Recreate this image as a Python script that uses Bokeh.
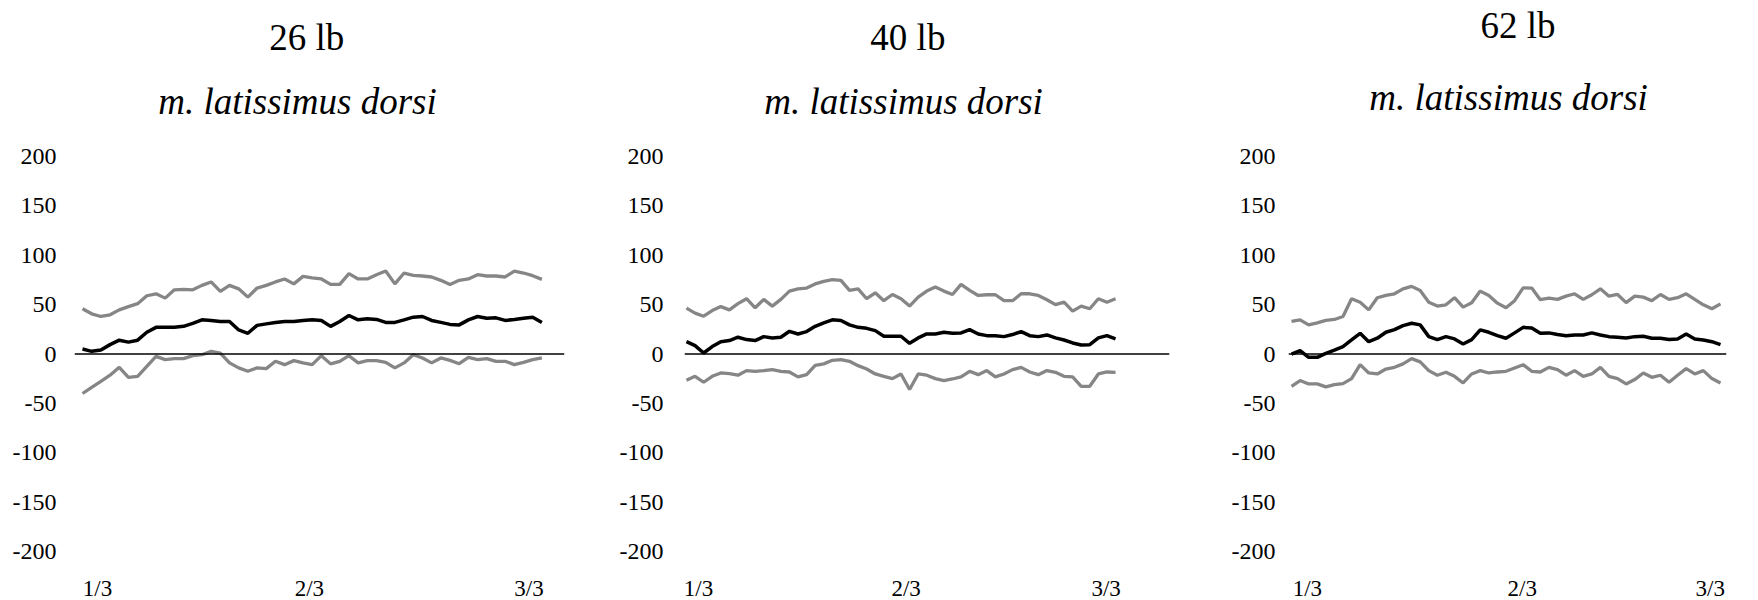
from bokeh.plotting import figure
from bokeh.layouts import row
from bokeh.models import Span, FixedTicker, Range1d, ColumnDataSource
from bokeh.core.properties import value
from bokeh.embed import file_html
from bokeh.resources import INLINE

# ---- data -------------------------------------------------------------
loads = ["26 lb", "40 lb", "62 lb"]
muscle = "m. latissimus dorsi"
phase_labels = ["1/3", "2/3", "3/3"]
y_ticks = [-200, -150, -100, -50, 0, 50, 100, 150, 200]

mean_26 = [5, 2.7, 4, 9.5, 14, 12, 14, 22, 27, 27, 27, 28, 31, 34.6, 34, 33, 33,
           24.4, 21, 29, 30.5, 32, 33, 33, 34, 34.6, 34, 28, 33, 39, 34.6, 35.6,
           35, 32, 32, 34.6, 37.3, 38, 34, 32, 30, 29.5, 34.6, 38, 36.3, 36.6,
           34, 35, 36.3, 37.3, 32]
upper_26 = [45.8, 40.7, 38, 39.7, 44.7, 48, 51, 59, 61, 56.6, 65, 65.4, 65, 69.5,
            73, 63.4, 69.5, 66, 57.6, 66.8, 69.5, 73, 76, 71, 78.6, 77, 76, 70.5,
            70.5, 81.4, 76, 76, 80.3, 84, 71, 82, 79.7, 79, 78, 74.6, 70.5, 74.6,
            76, 80.3, 79, 79, 78, 84, 82, 79.3, 75.6]
lower_26 = [-40, -33.7, -27.6, -21.5, -13.5, -23.6, -22.6, -12.5, -2.4, -5.7, -4.7,
            -4.7, -1.7, -0.7, 2.7, 1, -9, -14, -17.5, -14, -14.8, -7.4, -10.8, -6.7,
            -9, -10.8, -1.7, -10, -7.4, -1.7, -9, -6.7, -6.7, -8.4, -14, -9, -0.7,
            -4, -9, -4, -6.4, -9.8, -3.4, -5.7, -4.7, -7.4, -7.4, -10.8, -8.4, -5.7, -4]

mean_40 = [12.5, 8.5, 1, 7.5, 12.5, 13.6, 17, 14.6, 13.6, 17.6, 16.3, 17, 23, 20.3,
           22.7, 28, 31.5, 34.6, 34, 29.5, 27, 26, 23.7, 18, 18, 18, 10.8, 16.3,
           20.3, 20.3, 22, 21, 21.4, 24.7, 20.3, 18.6, 18.6, 17.6, 19.7, 22.7, 18.6,
           17.6, 19.3, 16.3, 14.2, 11.2, 9.2, 9.5, 16.3, 18.6, 15.3]
upper_40 = [46.4, 41.4, 38.3, 44, 48, 44.7, 51, 56, 46.8, 55.3, 48.5, 55.3, 63.7, 66,
            66.8, 71, 73.6, 75.3, 74.6, 64.4, 66, 56, 62, 54, 60.3, 56, 48.5, 57.6,
            63.7, 67.8, 63.7, 60.3, 70.5, 64.4, 59.3, 60, 60, 54, 54, 61, 61, 59.3,
            55, 50, 52.5, 43.4, 48.5, 45.8, 56, 52.5, 56]
lower_40 = [-26.6, -22.6, -28.6, -22.6, -19.2, -19.9, -21.5, -16.8, -17.5, -16.8,
            -15.8, -17.5, -18.2, -23.2, -20.9, -11.4, -10, -6.4, -5.7, -7.4, -11.8,
            -15.2, -20.2, -22.6, -24.9, -20.2, -36, -20.2, -21.5, -24.9, -26.9, -25.3,
            -23.2, -17.5, -20.9, -16.8, -23.2, -20.2, -15.8, -13.5, -18.2, -20.9,
            -16.8, -18.5, -22.6, -23.2, -32.7, -32.7, -20.2, -18.2, -18.5]

mean_62 = [0, 3.4, -3.4, -3.4, 0.7, 4, 7.5, 14.2, 21, 12.5, 16, 22, 24.7, 28.8, 31.2,
           29.5, 17.6, 14.6, 17.6, 15.3, 10.2, 14.6, 24.4, 22, 18.6, 16, 21.4, 27,
           26.4, 21, 21.4, 19.7, 18.6, 19.3, 19.3, 21.4, 19.3, 17.6, 17, 16.3, 17.6,
           18, 16, 16, 14.6, 15.3, 20.3, 15.3, 14.2, 12.5, 9.5]
upper_62 = [33, 34.6, 29.5, 31.5, 34, 35, 38, 56, 52.5, 44.7, 57, 59.3, 61, 66, 68.5,
            64.4, 52.5, 48.5, 49.8, 57, 47.5, 52, 63.7, 59.3, 51.5, 46.8, 54, 67,
            66.8, 55, 56.6, 55.3, 58.6, 61, 55.3, 60, 66, 58.6, 60.3, 52, 58.6, 57.6,
            54, 60.3, 55.3, 57, 61, 55.3, 49.8, 45.8, 50.8]
lower_62 = [-32.7, -26.9, -30.3, -30.3, -33.3, -31, -30, -24.9, -10.8, -19.2, -20.2,
            -15.2, -13.5, -10, -4.7, -8, -16.8, -21.5, -18.5, -22.6, -29.3, -20.2,
            -16.8, -19.2, -18.2, -17.5, -14.1, -10.8, -17.5, -18.2, -13.5, -15.8,
            -21.5, -16.8, -22.6, -20.2, -13.5, -22.6, -24.9, -30.3, -25.9, -19.2,
            -23.6, -21.5, -28.6, -21.5, -14.8, -20.2, -16.8, -24.9, -29.3]

series = [
    (mean_26, upper_26, lower_26),
    (mean_40, upper_40, lower_40),
    (mean_62, upper_62, lower_62),
]

# ---- panel layout -------------------------------------------------------
panels = [
    dict(border_left=74, frame_width=490, border_right=40, x_range=(-0.87, 52.46),
         ticks=[1.64, 24.7, 48.6], standoff=12,
         title_xy=(24.4, 320.5), sub_xy=(23.4, 256)),
    dict(border_left=80, frame_width=485, border_right=40, x_range=(-0.23, 56.29),
         ticks=[1.4, 25.6, 48.9], standoff=15,
         title_xy=(25.8, 320.5), sub_xy=(25.3, 256)),
    dict(border_left=79, frame_width=438, border_right=32, x_range=(-0.35, 50.7),
         ticks=[1.85, 26.9, 48.8], standoff=7,
         title_xy=(26.4, 333), sub_xy=(25.3, 260)),
]

FONT = "Liberation Serif"
GREY = "#868686"

figs = []
for load, (mean, upper, lower), cfg in zip(loads, series, panels):
    idx = list(range(len(mean)))
    src = ColumnDataSource(dict(x=idx, mean=mean, upper=upper, lower=lower))

    p = figure(frame_width=cfg["frame_width"], frame_height=551,
               min_border_left=cfg["border_left"], min_border_right=cfg["border_right"],
               min_border_top=0, min_border_bottom=49,
               x_range=Range1d(*cfg["x_range"]), y_range=Range1d(-200, 358),
               output_backend="svg", toolbar_location=None,
               background_fill_color="white", border_fill_color="white")
    p.outline_line_color = None
    p.grid.visible = False

    # y axis: bare labels with plain hyphen minus signs
    p.yaxis.ticker = FixedTicker(ticks=y_ticks)
    p.yaxis.major_label_overrides = {t: str(t) for t in y_ticks}
    p.yaxis.axis_line_color = None
    p.yaxis.major_tick_line_color = None
    p.yaxis.minor_tick_line_color = None
    p.yaxis.major_label_standoff = cfg["standoff"]
    p.yaxis.major_label_text_font = FONT
    p.yaxis.major_label_text_font_size = "24px"
    p.yaxis.major_label_text_color = "black"

    # x axis: phase labels only
    p.xaxis.ticker = FixedTicker(ticks=cfg["ticks"])
    p.xaxis.major_label_overrides = {t: lab for t, lab in zip(cfg["ticks"], phase_labels)}
    p.xaxis.axis_line_color = None
    p.xaxis.major_tick_line_color = None
    p.xaxis.minor_tick_line_color = None
    p.xaxis.major_label_standoff = 18
    p.xaxis.major_label_text_font = FONT
    p.xaxis.major_label_text_font_size = "23px"
    p.xaxis.major_label_text_color = "black"

    # zero line across the plot area
    p.add_layout(Span(location=0, dimension="width", line_color="black", line_width=1.5))

    p.line("x", "upper", source=src, line_color=GREY, line_width=3.3)
    p.line("x", "lower", source=src, line_color=GREY, line_width=3.3)
    p.line("x", "mean", source=src, line_color="black", line_width=3.5)

    tx, ty = cfg["title_xy"]
    sx, sy = cfg["sub_xy"]
    p.text(x=[tx], y=[ty], text=[load], text_font=value(FONT),
           text_font_size="37px", text_align="center", text_baseline="alphabetic",
           text_color="black")
    p.text(x=[sx], y=[sy], text=[muscle], text_font=value(FONT),
           text_font_size="37px", text_font_style="italic", text_align="center",
           text_baseline="alphabetic", text_color="black")
    figs.append(p)

layout = row(*figs, spacing=0)
open("out.html", "w").write(file_html(layout, INLINE))
